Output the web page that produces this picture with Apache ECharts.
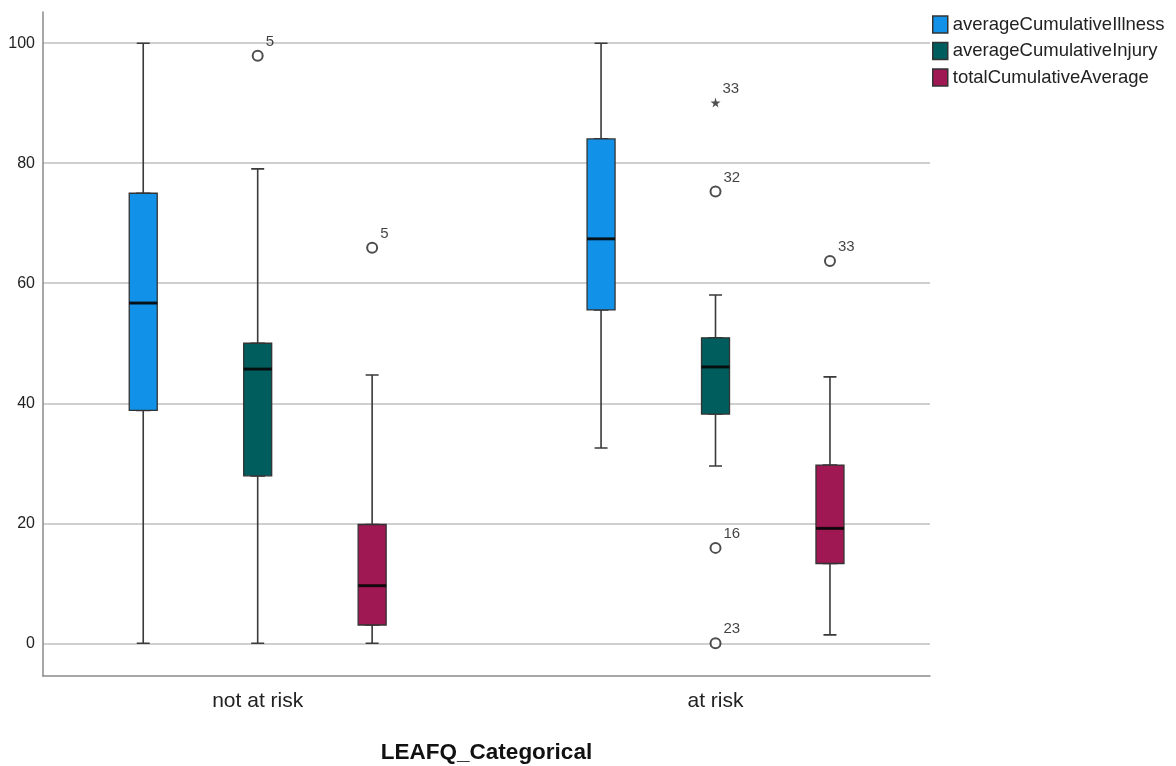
<!DOCTYPE html>
<html>
<head>
<meta charset="utf-8">
<script src="https://cdn.jsdelivr.net/npm/echarts@6/dist/echarts.min.js"></script>
<style>
html, body { margin: 0; padding: 0; background: #fff; }
#main { width: 1176px; height: 766px; }
</style>
</head>
<body>
<div id="main"></div>
<script>
var categories = ['not at risk', 'at risk'];
var seriesNames = ['averageCumulativeIllness', 'averageCumulativeInjury', 'totalCumulativeAverage'];
var seriesColors = ['#1192e8', '#005d5d', '#9f1853'];

// [min, Q1, median, Q3, max] for each category
var illnessBoxes = [[0, 38.8, 56.7, 75.0, 100], [32.55, 55.55, 67.4, 84.05, 100]];
var injuryBoxes = [[0, 27.9, 45.7, 50.0, 79.05], [29.55, 38.2, 46.05, 50.9, 58.05]];
var totalBoxes = [[0, 3.05, 9.6, 19.8, 44.7], [1.4, 13.3, 19.15, 29.7, 44.4]];

// [category index, value, case number]
var illnessOutliers = [];
var injuryOutliers = [[0, 97.9, '5'], [1, 75.3, '32'], [1, 15.9, '16'], [1, 0, '23']];
var injuryExtremes = [[1, 90.1, '33']];
var totalOutliers = [[0, 65.9, '5'], [1, 63.7, '33']];

var yTicks = [0, 20, 40, 60, 80, 100];
var yMin = -5.45, yMax = 105.2;

var boxSets = [illnessBoxes, injuryBoxes, totalBoxes];
var outlierSets = [illnessOutliers, injuryOutliers, totalOutliers];

// each category takes 3 slots plus one empty slot between groups
function slotOf(cat, s) { return cat * 4 + s; }
var slots = [];
for (var i = 0; i < categories.length * 4 - 1; i++) slots.push(String(i));

var chart = echarts.init(document.getElementById('main'));
var font = 'Liberation Sans, Arial, sans-serif';

var slotAxis = function (idx, showLabels) {
	return {
		type: 'category', gridIndex: 1, data: slots,
		axisLine: { show: false }, axisTick: { show: false }, splitLine: { show: false },
		axisLabel: {
			show: showLabels, interval: 0, margin: 15,
			fontFamily: font, fontSize: 21, color: '#222',
			formatter: function (v, i) { return i % 4 === 1 ? categories[(i - 1) / 4] : ''; }
		}
	};
};

var xAxes = [{
	type: 'category', gridIndex: 0, data: categories,
	axisLine: { show: true, onZero: false, lineStyle: { color: '#8a8a8a', width: 1.5 } },
	axisTick: { show: false }, axisLabel: { show: false },
	name: 'LEAFQ_Categorical', nameLocation: 'middle', nameGap: 65,
	nameTextStyle: { fontFamily: font, fontSize: 22.5, fontWeight: 'bold', color: '#111' }
}];
for (var a = 0; a < 4; a++) xAxes.push(slotAxis(a, a === 0));

var series = [];

// whiskers and caps: narrow boxes hidden under the wide ones
var whiskerData = [];
boxSets.forEach(function (set, s) {
	set.forEach(function (b, c) { whiskerData.push([slotOf(c, s)].concat(b)); });
});
series.push({
	type: 'boxplot', name: 'whiskers', xAxisIndex: 1, yAxisIndex: 1,
	encode: { x: 0, y: [1, 2, 3, 4, 5] },
	boxWidth: 13, z: 2, silent: true,
	itemStyle: { color: '#fff', borderColor: '#3a3a3a', borderWidth: 1.6 },
	data: whiskerData
});

// coloured boxes Q1..Q3
boxSets.forEach(function (set, s) {
	series.push({
		type: 'boxplot', name: seriesNames[s], xAxisIndex: 2 + s, yAxisIndex: 1,
		encode: { x: 0, y: [1, 2, 3, 4, 5] },
		boxWidth: 28, z: 3, silent: true,
		itemStyle: { color: seriesColors[s], borderColor: '#333', borderWidth: 1.3 },
		data: set.map(function (b, c) { return [slotOf(c, s), b[1], b[1], b[2], b[3], b[3]]; })
	});
});

// thick median lines
var medianData = [];
boxSets.forEach(function (set, s) {
	set.forEach(function (b, c) { medianData.push([slotOf(c, s), b[2]]); });
});
series.push({
	type: 'scatter', name: 'median', xAxisIndex: 1, yAxisIndex: 1, z: 4, silent: true,
	symbol: 'rect', symbolSize: [28, 3], itemStyle: { color: '#000' },
	data: medianData
});

var outlierLabel = {
	show: true, position: 'right', offset: [-3, -14],
	fontFamily: font, fontSize: 15, color: '#111',
	formatter: function (p) { return p.value[2]; }
};
var outlierData = [];
outlierSets.forEach(function (set, s) {
	set.forEach(function (o) { outlierData.push([slotOf(o[0], s), o[1], o[2]]); });
});
series.push({
	type: 'scatter', name: 'outliers', xAxisIndex: 1, yAxisIndex: 1, z: 5, silent: true,
	symbol: 'emptyCircle', symbolSize: 10,
	itemStyle: { color: '#222', borderWidth: 1.5 },
	label: outlierLabel,
	data: outlierData
});
series.push({
	type: 'scatter', name: 'extremes', xAxisIndex: 1, yAxisIndex: 1, z: 5, silent: true,
	symbol: 'path://M50,0 L61,35 L98,35 L68,57 L79,91 L50,70 L21,91 L32,57 L2,35 L39,35 Z',
	symbolSize: 10, itemStyle: { color: '#222' },
	label: outlierLabel,
	data: injuryExtremes.map(function (o) { return [slotOf(o[0], 1), o[1], o[2]]; })
});

var option = {
	animation: false,
	backgroundColor: '#fff',
	legend: {
		data: seriesNames.map(function (n, i) {
			return { name: n, itemStyle: { color: seriesColors[i], borderColor: '#333', borderWidth: 1.5 } };
		}),
		orient: 'vertical', left: 927, top: 10, padding: 5,
		icon: 'rect', itemWidth: 15, itemHeight: 17, itemGap: 7.5,
		textStyle: { fontFamily: font, fontSize: 18.5, color: '#222' },
		selectedMode: false
	},
	grid: [
		{ left: 43, right: 246, top: 12, bottom: 90, outerBoundsMode: 'none' },
		{ left: 86, width: 801.2, top: 12, bottom: 90, outerBoundsMode: 'none' }
	],
	xAxis: xAxes,
	yAxis: [{
		type: 'value', gridIndex: 0, min: yMin, max: yMax,
		axisLine: { show: true, lineStyle: { color: '#8a8a8a', width: 1.5 } },
		axisTick: { show: false },
		axisLabel: {
			margin: 8, fontFamily: font, fontSize: 16, color: '#222',
			formatter: function (v) { return yTicks.indexOf(v) >= 0 ? String(v) : ''; }
		},
		splitLine: { show: true, showMinLine: false, showMaxLine: false, lineStyle: { color: '#cfcfcf', width: 2 } }
	}, {
		type: 'value', gridIndex: 1, min: yMin, max: yMax, show: false
	}],
	series: series
};

chart.setOption(option);
</script>
</body>
</html>
